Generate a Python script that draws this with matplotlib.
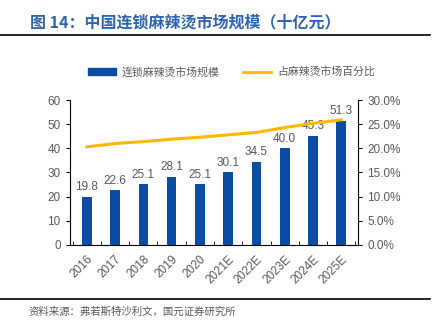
import matplotlib.pyplot as plt
from matplotlib.ticker import FuncFormatter
from matplotlib.lines import Line2D
from matplotlib.patches import Patch

plt.rcParams['font.family'] = ['Liberation Sans', 'Noto Sans CJK SC', 'DejaVu Sans']

years = ['2016', '2017', '2018', '2019', '2020', '2021E', '2022E', '2023E', '2024E', '2025E']
market = [19.8, 22.6, 25.1, 28.1, 25.1, 30.1, 34.5, 40.0, 45.3, 51.3]
share = [20.3, 21.0, 21.4, 21.9, 22.3, 22.8, 23.3, 24.3, 25.2, 25.9]

blue = '#0B4DA2'
gold = '#FFB800'
grey = '#595959'
cjk = ['Noto Sans CJK SC', 'DejaVu Sans']

fig = plt.figure(figsize=(4.39, 3.27), dpi=100)
ax = fig.add_axes([0.159, 0.251, 0.657, 0.443])
x = range(len(years))
bars = ax.bar(x, market, width=0.34, color=blue, zorder=2)
for xi, v in zip(x, market):
    ax.text(xi, v + 1.5, f'{v:.1f}', ha='center', va='bottom', fontsize=8.5, color=grey)

ax.set_ylim(0, 60)
ax.set_yticks(range(0, 61, 10))
ax.set_xlim(-0.6, len(years) - 0.4)
ax.set_xticks(list(x))
ax.set_xticklabels(years, rotation=45, ha='right', rotation_mode='anchor')
ax.set_xticks([i + 0.5 for i in range(-1, len(years))], minor=True)
ax.tick_params(axis='x', which='major', length=0, labelsize=8.5, labelcolor=grey, pad=6)
ax.tick_params(axis='x', which='minor', length=3, direction='in')
ax.tick_params(axis='y', labelsize=8.5, labelcolor=grey, length=3, direction='out')
for s in ['top', 'right']:
    ax.spines[s].set_visible(False)

ax2 = ax.twinx()
ax2.plot(x, share, color=gold, lw=2.2, zorder=3)
ax2.set_ylim(0, 30)
ax2.set_yticks(range(0, 31, 5))
ax2.yaxis.set_major_formatter(FuncFormatter(lambda v, p: f'{v:.1f}%'))
ax2.tick_params(axis='y', labelsize=8.5, labelcolor=grey, length=3)
for s in ['top', 'left', 'bottom']:
    ax2.spines[s].set_visible(False)

handles = [Patch(color=blue), Line2D([0], [0], color=gold, lw=2)]
fig.legend(handles, ['连锁麻辣烫市场规模', '占麻辣烫市场百分比'], loc='center',
           bbox_to_anchor=(0.527, 0.78), ncol=2, frameon=False, handlelength=2.6,
           handletextpad=0.5, columnspacing=2.2, prop={'family': cjk, 'size': 7.8},
           labelcolor=grey)

fig.text(0.068, 0.933, '图 14：中国连锁麻辣烫市场规模（十亿元）', fontsize=11.5,
         fontweight='bold', color='#2E63B0', family=cjk, va='center')
fig.add_artist(Line2D([0.0, 0.98], [0.893, 0.893], color='black', lw=1.2))
fig.add_artist(Line2D([0.0, 0.98], [0.087, 0.087], color='black', lw=1.2))
fig.text(0.064, 0.047, '资料来源：弗若斯特沙利文，国元证券研究所', fontsize=7.5,
         color=grey, family=cjk, va='center')

fig.savefig('out.png', dpi=100)
